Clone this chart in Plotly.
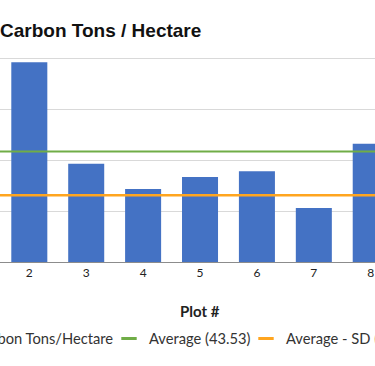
import plotly.graph_objects as go

plots = [2, 3, 4, 5, 6, 7, 8]
carbon = [78.7, 38.7, 28.8, 33.5, 35.8, 21.3, 46.6]
average = 43.53
avg_minus_sd = 26.27
y_ticks = [0, 20, 40, 60, 80]

BLUE = "#4472C4"
GREEN = "#70AD47"
ORANGE = "#FFA51F"
FONT = "Lato"
W, H = 375, 366
T, B = 56, 104
PH = H - T - B

x_span = [plots[0] - 1, plots[-1] + 1]

fig = go.Figure()
fig.add_trace(go.Bar(x=plots, y=carbon, name="Carbon Tons/Hectare", legend="legend",
                     marker=dict(color=BLUE, line=dict(width=0))))
fig.add_trace(go.Scatter(x=x_span, y=[average] * 2, mode="lines",
                         line=dict(color=GREEN, width=2), showlegend=False,
                         hoverinfo="skip"))
fig.add_trace(go.Scatter(x=x_span, y=[avg_minus_sd] * 2, mode="lines",
                         line=dict(color=ORANGE, width=2.5), showlegend=False,
                         hoverinfo="skip"))
fig.add_trace(go.Scatter(x=[None], y=[None], mode="markers", legend="legend2",
                         name=f"Average ({average:.2f})",
                         marker=dict(symbol="line-ew", size=11,
                                     line=dict(color=GREEN, width=3))))
fig.add_trace(go.Scatter(x=[None], y=[None], mode="markers", legend="legend3",
                         name=f"Average - SD ({avg_minus_sd:.2f})",
                         marker=dict(symbol="line-ew", size=11,
                                     line=dict(color=ORANGE, width=3))))

leg_common = dict(orientation="h", xanchor="left", y=-(339 - (H - B)) / PH,
                  yanchor="middle", font=dict(family=FONT, size=14.7, color="#333333"),
                  bgcolor="rgba(0,0,0,0)")

fig.update_layout(
    width=W, height=H,
    margin=dict(l=0, r=0, t=T, b=B, autoexpand=False),
    paper_bgcolor="white", plot_bgcolor="white",
    bargap=0.367,
    font=dict(family=FONT, size=13, color="#404040"),
    title=dict(text="<b>Carbon Tons / Hectare</b>", x=0, xref="container",
               xanchor="left", y=1 - 30 / H, yanchor="middle",
               font=dict(family="Liberation Sans", size=19, color="#111111")),
    xaxis=dict(range=[1.485, 8.075], tickmode="array", tickvals=plots,
               ticktext=[str(p) for p in plots], showgrid=False,
               showline=True, linecolor="#8c8c8c", linewidth=1,
               tickfont=dict(family=FONT, size=12, color="#222222"),
               ticks="", zeroline=False),
    yaxis=dict(range=[0, 81.18], tickvals=y_ticks, showticklabels=False,
               showgrid=True, gridcolor="#d9d9d9", gridwidth=1,
               zeroline=False, showline=False),
    legend=dict(x=-65 / W, **leg_common),
    legend2=dict(x=109 / W, **leg_common),
    legend3=dict(x=246 / W, **leg_common),
    annotations=[dict(text="<b>Plot #</b>", x=199.5 / W, xref="paper",
                      y=-(311 - (H - B)) / PH, yref="paper", yanchor="middle",
                      showarrow=False, font=dict(family=FONT, size=15, color="#222222"))],
)

fig.write_html("out.html", config={"displayModeBar": False},
               post_script="document.body.style.margin='0';document.body.style.overflow='hidden';")
